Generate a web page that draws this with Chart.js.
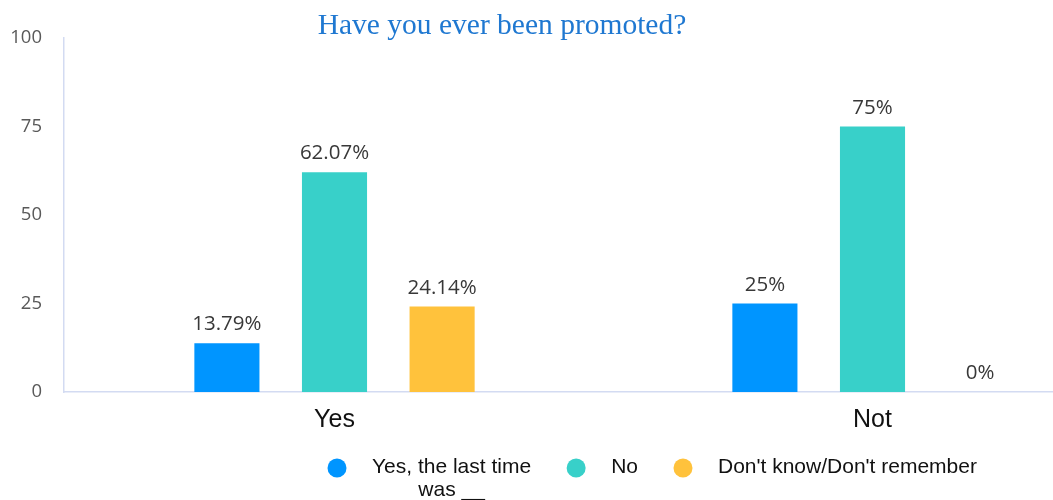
<!DOCTYPE html>
<html>
<head>
<meta charset="utf-8">
<title>Have you ever been promoted?</title>
<script src="https://cdn.jsdelivr.net/npm/chart.js@4"></script>
<style>
body { margin: 0; background: #fff; }
#caixa { width: 1053px; height: 500px; position: relative; }
</style>
</head>
<body>
<div id="caixa"><canvas id="canva1"></canvas></div>
<script>
// dados da pesquisa
var titulo = "Have you ever been promoted?"
var categorias = ["Yes", "Not"]
var seriesNomes = [["Yes, the last time", "was __"], ["No"], ["Don't know/Don't remember"]]
var serieUltimaVez = [13.79, 25]
var serieNao = [62.07, 75]
var serieNaoSei = [24.14, 0]
var ticksY = [0, 25, 50, 75, 100]
var cores = ["#0095ff", "#38d0c9", "#ffc23c"]

function montarPontos(valores){
var pontos = []
for(var i = 0; i < valores.length; i++){
pontos.push({x: i, y: valores[i]})
}
return pontos
}

// titulo desenhado sobre o grafico
const pluginTitulo = {
id: "tituloSerif",
afterDraw(chart){
const ctx = chart.ctx
ctx.save()
ctx.font = "29.5px 'Liberation Serif'"
ctx.fillStyle = "#1f78d1"
ctx.textAlign = "center"
ctx.textBaseline = "middle"
ctx.fillText(titulo, 502, 26)
ctx.restore()
}
}

// porcentagem em cima de cada barra
const pluginRotulos = {
id: "rotulos",
afterDatasetsDraw(chart){
const ctx = chart.ctx
ctx.save()
ctx.font = "20.5px 'Open Sans'"
ctx.fillStyle = "#383838"
ctx.textAlign = "center"
ctx.textBaseline = "alphabetic"
chart.data.datasets.forEach(function(ds, i){
const meta = chart.getDatasetMeta(i)
meta.data.forEach(function(barra, j){
ctx.fillText(ds.data[j].y + "%", barra.x, barra.y - 13)
})
})
ctx.restore()
}
}

// legenda com bolinhas embaixo
const pluginLegenda = {
id: "legendaBolinha",
afterDraw(chart){
const ctx = chart.ctx
ctx.save()
ctx.font = "21px 'Liberation Sans'"
ctx.textBaseline = "middle"
var x = 337
var y = 467
chart.data.datasets.forEach(function(ds, i){
ctx.fillStyle = ds.backgroundColor
ctx.beginPath()
ctx.arc(x, y + 1, 9.5, 0, Math.PI * 2)
ctx.fill()
var linhas = seriesNomes[i]
var largura = 0
linhas.forEach(function(l){ largura = Math.max(largura, ctx.measureText(l).width) })
var xTexto = x + 35
ctx.fillStyle = "#111"
ctx.textAlign = "center"
linhas.forEach(function(l, k){
ctx.fillText(l, xTexto + largura / 2, y + k * 23)
})
x = xTexto + largura + 45
})
ctx.restore()
}
}

const config = {
type: "bar",
data: {
datasets: [
{label: seriesNomes[0].join(" "), data: montarPontos(serieUltimaVez), backgroundColor: cores[0]},
{label: seriesNomes[1].join(" "), data: montarPontos(serieNao), backgroundColor: cores[1]},
{label: seriesNomes[2].join(" "), data: montarPontos(serieNaoSei), backgroundColor: cores[2]}
]
},
options: {
responsive: true,
maintainAspectRatio: false,
animation: false,
barPercentage: 0.605,
categoryPercentage: 0.6,
layout: {padding: {top: 38, left: 0, right: 0, bottom: 0}},
plugins: {legend: {display: false}, tooltip: {enabled: false}, title: {display: false}},
scales: {
x: {
type: "linear",
offset: false,
min: -0.5028,
max: 1.3355,
grid: {display: false, drawTicks: false},
border: {color: "#d3dbf2", width: 1.5},
afterBuildTicks: function(scale){
scale.ticks = categorias.map(function(c, i){ return {value: i} })
},
afterFit: function(scale){ scale.height = 108 },
ticks: {
padding: 13,
color: "#111",
font: {family: "'Liberation Sans'", size: 25},
callback: function(v){ return categorias[v] }
}
},
y: {
min: 0,
max: 100,
grid: {display: false, drawTicks: false},
border: {color: "#d3dbf2", width: 1.5},
afterBuildTicks: function(scale){
scale.ticks = ticksY.map(function(v){ return {value: v} })
},
afterFit: function(scale){ scale.width = 64 },
ticks: {
padding: 22,
color: "#595959",
font: {family: "'Open Sans'", size: 18.5}
}
}
}
},
plugins: [pluginTitulo, pluginRotulos, pluginLegenda]
}

const ctx = document.getElementById("canva1").getContext("2d")
window.chart = new Chart(ctx, config)
</script>
</body>
</html>
